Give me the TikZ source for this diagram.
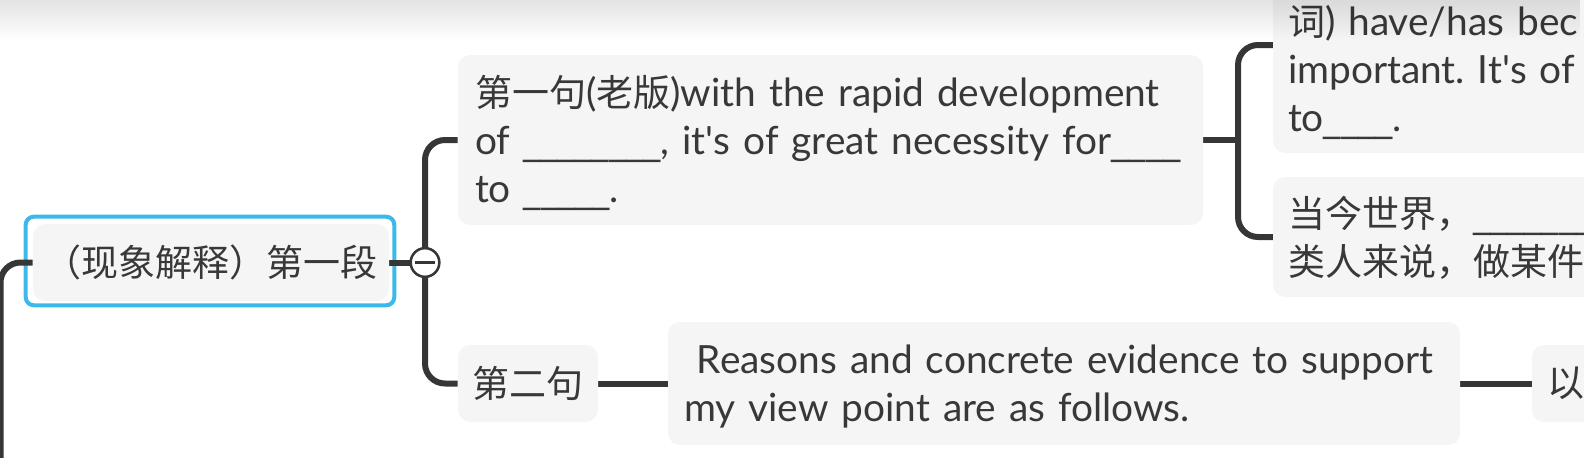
\documentclass[tikz,border=0pt]{standalone}
\usepackage{fontspec}
\setmainfont{Lato}[Scale=1.05]
\newfontfamily\cjk{Noto Sans CJK SC}
\newfontfamily\usfont{DejaVu Sans}[Scale=0.93]
\usetikzlibrary{backgrounds,fadings}
\definecolor{linec}{HTML}{363636}
\definecolor{boxg}{HTML}{F5F5F5}
\definecolor{txt}{HTML}{383838}
\definecolor{sel}{HTML}{3DB8EA}
\newcommand\stl{\rule[-7.5pt]{0pt}{36pt}}
\tikzfading[name=topfade, top color=transparent!0, bottom color=transparent!100]
\frenchspacing
\begin{document}
\begin{tikzpicture}[x=0.75pt,y=-0.75pt,
  box/.style={rectangle, rounded corners=9pt, fill=boxg, text=txt, inner ysep=0pt,
    font=\fontsize{27.75pt}{36pt}\selectfont\frenchspacing},
  conn/.style={draw=linec, line width=4.5pt},
  conr/.style={conn, rounded corners=15pt},
  collapse/.style={circle, draw=linec, line width=1.9pt, fill=white, minimum size=21.5pt, inner sep=0pt,
    path picture={\draw[linec, line width=1.9pt]
      ([xshift=-7.5pt]path picture bounding box.center) -- ([xshift=7.5pt]path picture bounding box.center);}}
]
\useasboundingbox (0,0) rectangle (1584,457);

% nodes
\node[box, minimum width=267pt, minimum height=57.75pt, inner xsep=0pt] (root) at (211,262.5)
  {\cjk （现象解释）第一段};
\node[collapse] (c) at (425,262.5) {};

\node[box, text width=533.25pt, inner xsep=12.75pt, minimum height=127.5pt, align=left] (n1) at (830.5,140)
  {\mbox{\stl{\cjk 第一句}({\cjk 老版})with the rapid development}\\
   \mbox{\stl of {\usfont\_\_\_\_\_\_\_\_}, it\textquotesingle s of great necessity for{\usfont\_\_\_\_}}\\
   \mbox{\stl to {\usfont\_\_\_\_\_}.}};

\node[box, minimum width=105pt, minimum height=57.75pt, inner xsep=0pt] (n2) at (528,383.5)
  {\cjk 第二句};

\node[box, text width=570pt, inner xsep=12pt, minimum height=92.25pt, align=left] (r) at (1064,383.5)
  {\mbox{\stl\ Reasons and concrete evidence to support}\\
   \mbox{\stl my view point are as follows.}};

\node[box, text width=127.5pt, inner xsep=11.25pt, minimum height=57.75pt, align=left] (yi) at (1632,383.5)
  {\cjk 以下};

\node[box, text width=335.25pt, inner xsep=11.25pt, minimum height=162pt, align=left] (a) at (1511.5,45)
  {\stl\\
   \mbox{\stl{\cjk 词}) have/has bec}\\
   \mbox{\stl important. It\textquotesingle s of}\\
   \mbox{\stl to{\usfont\_\_\_\_}.}};

\node[box, text width=335.25pt, inner xsep=11.25pt, minimum height=90pt, align=left] (b) at (1511.5,237)
  {\mbox{\stl{\cjk 当今世界，}{\usfont\_\_\_\_\_\_\_\_}}\\
   \mbox{\stl{\cjk 类人来说，做某件事}}};

\coordinate (L0) at (0.5,470);
\coordinate (j) at (1238,140);

\begin{pgfonlayer}{background}
  \draw[sel, line width=3pt, rounded corners=6pt]
    ([shift={(-7,-7)}]root.north west) rectangle ([shift={(5,4)}]root.south east);
  \draw[conr] (L0) |- (root.west);
  \draw[conn] (root.east) -- (c.center);
  \draw[conr] (c.center) |- (n1.west);
  \draw[conr] (c.center) |- (n2.west);
  \draw[conn] (n1.east) -- (j);
  \draw[conr] (a.west) -| (j) |- (b.west);
  \draw[conn] (n2.east) -- (r.west);
  \draw[conn] (r.east) -- (yi.west);
\end{pgfonlayer}

\fill[black, opacity=0.11, path fading=topfade] (0,0) rectangle (1584,40);
\end{tikzpicture}
\end{document}
